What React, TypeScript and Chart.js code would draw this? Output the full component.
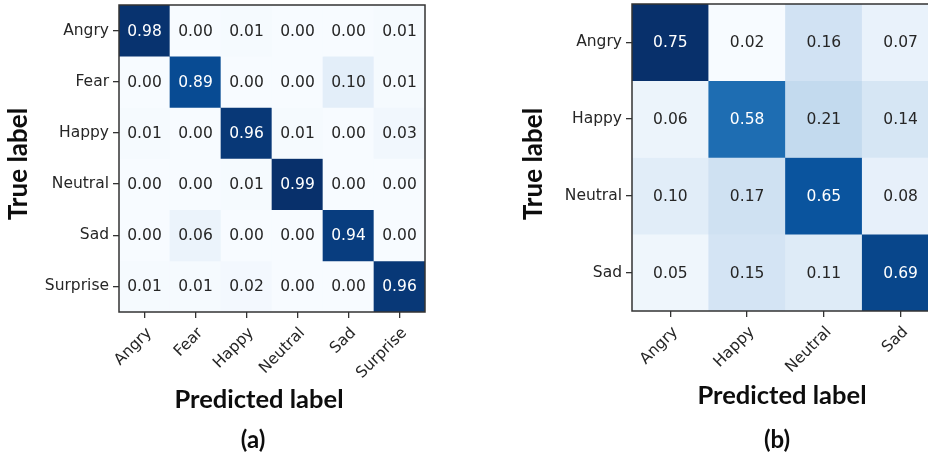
import React, { useEffect, useRef } from 'react';
import { Chart, registerables } from 'chart.js';

Chart.register(...registerables);

// ---------- data ----------
const classesA = ['Angry', 'Fear', 'Happy', 'Neutral', 'Sad', 'Surprise'];
const matrixA = [
  [0.98, 0.0, 0.01, 0.0, 0.0, 0.01],
  [0.0, 0.89, 0.0, 0.0, 0.1, 0.01],
  [0.01, 0.0, 0.96, 0.01, 0.0, 0.03],
  [0.0, 0.0, 0.01, 0.99, 0.0, 0.0],
  [0.0, 0.06, 0.0, 0.0, 0.94, 0.0],
  [0.01, 0.01, 0.02, 0.0, 0.0, 0.96],
];

const classesB = ['Angry', 'Happy', 'Neutral', 'Sad'];
const matrixB = [
  [0.75, 0.02, 0.16, 0.07],
  [0.06, 0.58, 0.21, 0.14],
  [0.1, 0.17, 0.65, 0.08],
  [0.05, 0.15, 0.11, 0.69],
];

const xTitle = 'Predicted label';
const yTitle = 'True label';
const captionA = '(a)';
const captionB = '(b)';

// ---------- colormap (matplotlib Blues) ----------
const BLUES = ['#f7fbff', '#deebf7', '#c6dbef', '#9ecae1', '#6baed6', '#4292c6', '#2171b5', '#08519c', '#08306b'];
function hexToRgb(h: string) {
  return [parseInt(h.slice(1, 3), 16), parseInt(h.slice(3, 5), 16), parseInt(h.slice(5, 7), 16)];
}
function blues(t: number) {
  const c = Math.max(0, Math.min(1, t)) * (BLUES.length - 1);
  const i = Math.min(Math.floor(c), BLUES.length - 2);
  const f = c - i;
  const a = hexToRgb(BLUES[i]);
  const b = hexToRgb(BLUES[i + 1]);
  const m = a.map((v, k) => Math.round(v + (b[k] - v) * f));
  return `rgb(${m[0]},${m[1]},${m[2]})`;
}

const TICK_FONT = { family: 'DejaVu Sans', size: 15.5 };
const BOLD_FAMILY = 'Lato';

type Props = {
  classes: string[];
  matrix: number[][];
  width: number;
  height: number;
  area: { left: number; top: number; right: number; bottom: number };
  yTitlePos: [number, number];
  xTitlePos: [number, number];
  captionPos: [number, number];
  caption: string;
};

function MatrixChart(p: Props) {
  const ref = useRef<HTMLCanvasElement>(null);
  useEffect(() => {
    const n = p.classes.length;
    const flat = p.matrix.flat();
    const vmin = Math.min(...flat);
    const vmax = Math.max(...flat);
    const thresh = vmax / 2;

    const datasets = p.matrix.map((row, i) => ({
      label: p.classes[i],
      data: row.map(() => [i - 0.5, i + 0.5]),
      values: row,
      backgroundColor: row.map((v) => blues((v - vmin) / (vmax - vmin))),
      borderWidth: 0,
      borderSkipped: false,
      barPercentage: 1,
      categoryPercentage: 1,
      grouped: false,
    }));

    const overlay = {
      id: 'overlay',
      afterDatasetsDraw(chart: any) {
        const ctx = chart.ctx;
        ctx.save();
        ctx.font = `${TICK_FONT.size}px "${TICK_FONT.family}"`;
        ctx.textAlign = 'center';
        ctx.textBaseline = 'middle';
        chart.data.datasets.forEach((ds: any, i: number) => {
          const meta = chart.getDatasetMeta(i);
          meta.data.forEach((el: any, j: number) => {
            const v = ds.values[j];
            ctx.fillStyle = v > thresh ? '#ffffff' : '#262626';
            ctx.fillText(v.toFixed(2), el.x, (el.y + el.base) / 2 + 1);
          });
        });
        const a = chart.chartArea;
        ctx.strokeStyle = '#333333';
        ctx.lineWidth = 1.5;
        ctx.strokeRect(a.left, a.top, a.right - a.left, a.bottom - a.top);
        // titles
        ctx.fillStyle = '#0d0d0d';
        ctx.font = `bold 25.5px "${BOLD_FAMILY}"`;
        ctx.fillText(xTitle, p.xTitlePos[0], p.xTitlePos[1]);
        ctx.font = `bold 24px "${BOLD_FAMILY}"`;
        ctx.fillText(p.caption, p.captionPos[0], p.captionPos[1]);
        ctx.save();
        ctx.translate(p.yTitlePos[0], p.yTitlePos[1]);
        ctx.rotate(-Math.PI / 2);
        ctx.font = `bold 26px "${BOLD_FAMILY}"`;
        ctx.fillText(yTitle, 0, 0);
        ctx.restore();
        ctx.restore();
      },
    };

    const chart = new Chart(ref.current!, {
      type: 'bar',
      data: { labels: p.classes, datasets: datasets as any },
      options: {
        animation: false,
        responsive: false,
        events: [],
        layout: {
          padding: { left: 0, top: p.area.top, right: p.width - p.area.right, bottom: 0 },
        },
        plugins: { legend: { display: false }, tooltip: { enabled: false }, title: { display: false } },
        scales: {
          x: {
            type: 'category',
            offset: true,
            grid: { display: true, drawOnChartArea: false, drawTicks: true, tickLength: 6, color: '#333333', lineWidth: 1.3, offset: false },
            border: { display: false },
            ticks: { color: '#262626', font: TICK_FONT, minRotation: 45, maxRotation: 45, autoSkip: false, padding: 6, labelOffset: 5 },
            afterFit(scale: any) {
              scale.height = p.height - p.area.bottom;
              scale.paddingLeft = 0;
              scale.paddingRight = 0;
            },
          },
          y: {
            type: 'linear',
            reverse: true,
            min: -0.5,
            max: n - 0.5,
            grid: { display: true, drawOnChartArea: false, drawTicks: true, tickLength: 6, color: '#333333', lineWidth: 1.3 },
            border: { display: false },
            afterBuildTicks(scale: any) {
              scale.ticks = p.classes.map((_, i) => ({ value: i }));
            },
            ticks: {
              color: '#262626',
              font: TICK_FONT,
              autoSkip: false,
              padding: 4,
              callback: (v: any) => p.classes[Math.round(Number(v))] ?? '',
            },
            afterFit(scale: any) {
              scale.width = p.area.left;
              scale.paddingTop = 0;
              scale.paddingBottom = 0;
            },
          },
        },
      },
      plugins: [overlay],
    });
    return () => chart.destroy();
  }, []);
  return <canvas ref={ref} width={p.width} height={p.height} style={{ display: 'block' }} />;
}

export default function App() {
  return (
    <div
      style={{
        position: 'absolute',
        left: 0,
        top: 0,
        width: 928,
        height: 454,
        overflow: 'hidden',
        background: '#ffffff',
      }}
    >
      <div style={{ position: 'absolute', left: 0, top: 0 }}>
        <MatrixChart
          classes={classesA}
          matrix={matrixA}
          width={464}
          height={454}
          area={{ left: 119, top: 5, right: 425, bottom: 312 }}
          yTitlePos={[19, 164]}
          xTitlePos={[259, 400]}
          captionPos={[253, 440]}
          caption={captionA}
        />
      </div>
      <div style={{ position: 'absolute', left: 464, top: 0 }}>
        <MatrixChart
          classes={classesB}
          matrix={matrixB}
          width={490}
          height={454}
          area={{ left: 168, top: 4, right: 475, bottom: 311 }}
          yTitlePos={[70, 164]}
          xTitlePos={[318, 396]}
          captionPos={[313, 440]}
          caption={captionB}
        />
      </div>
    </div>
  );
}
